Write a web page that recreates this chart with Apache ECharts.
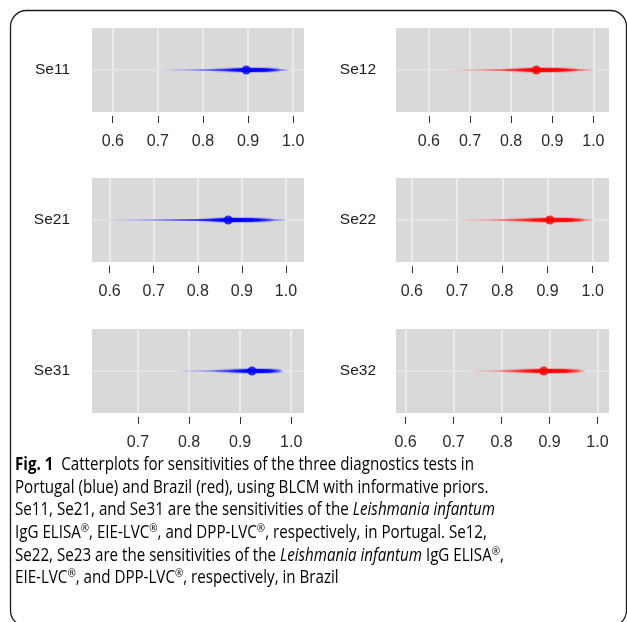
<!DOCTYPE html>
<html>
<head>
<meta charset="utf-8">
<script src="https://cdn.jsdelivr.net/npm/echarts@6/dist/echarts.min.js"></script>
<style>
  html, body { margin: 0; padding: 0; background: #fff; }
  #chart { width: 627px; height: 622px; }
</style>
</head>
<body>
<div id="chart"></div>
<script>
// panel data (posterior summaries)
const panelNames = ["Se11", "Se12", "Se21", "Se22", "Se31", "Se32"];
const panelColors = ["#0000ff", "#ff0000", "#0000ff", "#ff0000", "#0000ff", "#ff0000"];
const medians = [0.896, 0.861, 0.869, 0.905, 0.923, 0.888];
const outerLow = [0.70, 0.645, 0.58, 0.69, 0.775, 0.728];
const outerHigh = [0.99, 1.0, 1.0, 1.0, 0.985, 0.975];
const innerLow = [0.82, 0.78, 0.80, 0.81, 0.85, 0.80];
const innerHigh = [0.97, 0.96, 0.97, 0.98, 0.98, 0.965];
const axisMin = [0.554, 0.52, 0.56, 0.565, 0.61, 0.58];
const axisMax = [1.024, 1.038, 1.041, 1.036, 1.025, 1.024];
const tickValues = [
  [0.6, 0.7, 0.8, 0.9, 1.0],
  [0.6, 0.7, 0.8, 0.9, 1.0],
  [0.6, 0.7, 0.8, 0.9, 1.0],
  [0.6, 0.7, 0.8, 0.9, 1.0],
  [0.7, 0.8, 0.9, 1.0],
  [0.6, 0.7, 0.8, 0.9, 1.0],
];

// layout of the six panels
const gridLeft = [92, 396];
const gridWidth = [212, 213];
const gridTop = [28, 178, 329];
const gridHeight = 84;

function rgba(hex, a) {
  const r = parseInt(hex.slice(1, 3), 16);
  const g = parseInt(hex.slice(3, 5), 16);
  const b = parseInt(hex.slice(5, 7), 16);
  return `rgba(${r},${g},${b},${a})`;
}

// alpha ramp peaking at the median
function fade(color, lo, hi, mid) {
  const m = (mid - lo) / (hi - lo);
  return {
    type: "linear", x: 0, y: 0, x2: 1, y2: 0,
    colorStops: [
      { offset: 0, color: rgba(color, 0) },
      { offset: m * 0.4, color: rgba(color, 0.25) },
      { offset: m * 0.75, color: rgba(color, 0.7) },
      { offset: m, color: rgba(color, 1) },
      { offset: m + (1 - m) * 0.5, color: rgba(color, 0.85) },
      { offset: 1, color: rgba(color, 0) },
    ],
  };
}

const grids = [], xAxes = [], yAxes = [], series = [];
panelNames.forEach((name, i) => {
  const col = i % 2, row = Math.floor(i / 2);
  grids.push({
    left: gridLeft[col], width: gridWidth[col], top: gridTop[row], height: gridHeight,
    show: true, backgroundColor: "#d9d9d9", borderWidth: 0,
  });
  xAxes.push({
    type: "value", gridIndex: i, min: axisMin[i], max: axisMax[i], offset: 4,
    axisLine: { show: false },
    axisTick: { show: true, length: 7, customValues: tickValues[i], lineStyle: { color: "#333", width: 1 } },
    axisLabel: {
      customValues: tickValues[i], formatter: v => v.toFixed(1),
      fontSize: 16, color: "#2a2a2a", margin: 18, fontFamily: "Liberation Sans",
    },
    splitLine: { show: true, lineStyle: { color: "#ebebeb", width: 2 } },
  });
  yAxes.push({
    type: "category", gridIndex: i, data: [name],
    axisLine: { show: false }, axisTick: { show: false },
    axisLabel: { fontSize: 15.5, color: "#1a1a1a", margin: col === 0 ? 22 : 20, fontFamily: "Liberation Sans" },
    splitLine: { show: false },
  });
  // horizontal grid line through the category
  series.push({
    type: "line", xAxisIndex: i, yAxisIndex: i, data: [], z: 1, silent: true,
    markLine: {
      z: 1, silent: true, symbol: ["none", "none"], label: { show: false },
      lineStyle: { color: "#e6e6e6", width: 1.5, type: "solid" },
      data: [{ yAxis: name }],
    },
  });
  series.push({
    type: "line", xAxisIndex: i, yAxisIndex: i, z: 3, silent: true, showSymbol: false,
    data: [[outerLow[i], name], [outerHigh[i], name]],
    lineStyle: { width: 2, color: fade(panelColors[i], outerLow[i], outerHigh[i], medians[i]) },
  });
  series.push({
    type: "line", xAxisIndex: i, yAxisIndex: i, z: 4, silent: true, showSymbol: false,
    data: [[innerLow[i], name], [innerHigh[i], name]],
    lineStyle: { width: 4.5, color: fade(panelColors[i], innerLow[i], innerHigh[i], medians[i]) },
  });
  series.push({
    type: "scatter", xAxisIndex: i, yAxisIndex: i, z: 5, silent: true,
    data: [[medians[i], name]], symbolSize: 9,
    itemStyle: { color: panelColors[i] },
  });
});

const captionLines = [
  "{b|Fig. 1}{n|  Catterplots for sensitivities of the three diagnostics tests in}",
  "{n|Portugal (blue) and Brazil (red), using BLCM with informative priors.}",
  "{n|Se11, Se21, and Se31 are the sensitivities of the }{i|Leishmania infantum}",
  "{n|IgG ELISA}{s|®}{n|, EIE-LVC}{s|®}{n|, and DPP-LVC}{s|®}{n|, respectively, in Portugal. Se12,}",
  "{n|Se22, Se23 are the sensitivities of the }{i|Leishmania infantum}{n| IgG ELISA}{s|®}{n|,}",
  "{n|EIE-LVC}{s|®}{n|, and DPP-LVC}{s|®}{n|, respectively, in Brazil}",
];
const capFont = "Open Sans";
const capColor = "#231f20";

const chart = echarts.init(document.getElementById("chart"), null, { renderer: "canvas" });
chart.setOption({
  animation: false,
  backgroundColor: "#fff",
  grid: grids,
  xAxis: xAxes,
  yAxis: yAxes,
  series: series,
  graphic: [
    {
      type: "rect", silent: true,
      shape: { x: 10.5, y: 10.5, width: 616, height: 616, r: 16 },
      style: { fill: "none", stroke: "#1a1a1a", lineWidth: 1.3 },
    },
    {
      type: "text", silent: true, x: 15, y: 454, scaleX: 0.865,
      style: {
        text: captionLines.join("\n"),
        rich: {
          n: { fontFamily: capFont, fontSize: 17.5, lineHeight: 22.6, color: capColor },
          b: { fontFamily: capFont, fontSize: 17.5, lineHeight: 22.6, color: capColor, fontWeight: "bold" },
          i: { fontFamily: capFont, fontSize: 17.5, lineHeight: 22.6, color: capColor, fontStyle: "italic" },
          s: { fontFamily: capFont, fontSize: 11.5, color: capColor, verticalAlign: "top", padding: [1, 0, 0, 0] },
        },
      },
    },
  ],
});
</script>
</body>
</html>
